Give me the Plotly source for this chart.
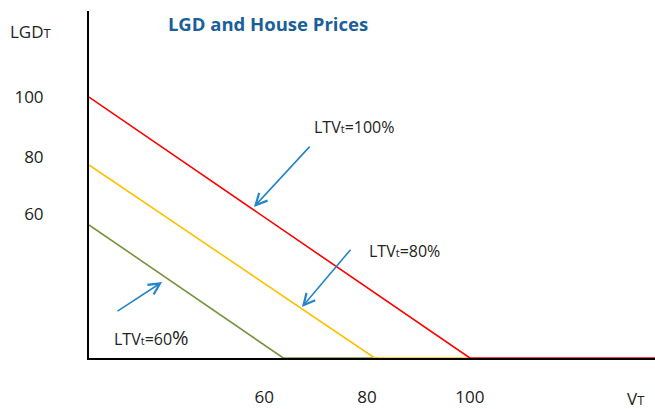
import plotly.graph_objects as go

# schematic lines: house value V_T vs loss given default, one per LTV
v_red = [0, 100, 148.6]
lgd_red = [100, 0, 0]
v_yellow = [0, 75, 100]
lgd_yellow = [74, 0, 0]
v_green = [0, 51, 76]
lgd_green = [51, 0, 0]

# tick labels as they sit on the sketch
x_tickvals = [46, 73, 100]
x_ticktext = ['60', '80', '100']
y_tickvals = [100, 77, 55]
y_ticktext = ['100', '80', '60']

# LTV labels and the arrows pointing at the lines (tail -> tip, data units)
ltv_text = ['LTV<span style="font-size:11px">t</span>=100%',
            'LTV<span style="font-size:11px">t</span>=80%',
            'LTV<span style="font-size:11px">t</span>=60<span style="font-size:20px">%</span>']
ltv_x = [58.5, 73.0, 6.0]
ltv_y = [88.5, 41.0, 7.7]
arrow_tail_x = [58.3, 69.0, 7.1]
arrow_tail_y = [81.6, 42.1, 17.6]
arrow_tip_x = [43.3, 55.9, 19.2]
arrow_tip_y = [57.9, 19.5, 29.1]

font = 'Open Sans, Liberation Sans, sans-serif'

fig = go.Figure()
fig.add_trace(go.Scatter(x=v_green, y=lgd_green, mode='lines',
                         line=dict(color='#76923C', width=1.6), cliponaxis=False))
fig.add_trace(go.Scatter(x=v_yellow, y=lgd_yellow, mode='lines',
                         line=dict(color='#FFC000', width=1.6), cliponaxis=False))
fig.add_trace(go.Scatter(x=v_red, y=lgd_red, mode='lines',
                         line=dict(color='#FF0000', width=1.6), cliponaxis=False))

for i in range(len(ltv_text)):
    fig.add_annotation(x=ltv_x[i], y=ltv_y[i], text=ltv_text[i], showarrow=False,
                       xanchor='left', yanchor='middle',
                       font=dict(family=font, size=16, color='#222'))
    fig.add_annotation(x=arrow_tip_x[i], y=arrow_tip_y[i],
                       ax=arrow_tail_x[i], ay=arrow_tail_y[i],
                       axref='x', ayref='y', text='', showarrow=True,
                       arrowhead=5, arrowsize=1.4, arrowwidth=1.6,
                       arrowcolor='#2585C7')

# axis titles
fig.add_annotation(xref='paper', yref='paper', x=-0.1025, y=0.942,
                   xanchor='center', yanchor='middle',
                   text='LGD<span style="font-size:13px">T</span>', showarrow=False,
                   font=dict(family=font, size=17, color='#222'))
fig.add_annotation(xref='paper', yref='paper', x=0.966, y=-0.118,
                   xanchor='center', yanchor='middle',
                   text='V<span style="font-size:13px">T</span>', showarrow=False,
                   font=dict(family=font, size=17, color='#222'))

fig.update_layout(
    width=655, height=409,
    margin=dict(l=89, r=0, t=11, b=51),
    plot_bgcolor='white', paper_bgcolor='white',
    showlegend=False,
    title=dict(text='<b>LGD and House Prices</b>', xref='container', yref='container',
               x=268 / 655, y=1 - 25 / 409, xanchor='center', yanchor='middle',
               font=dict(family=font, size=18.5, color='#1A5F99')),
)
fig.update_xaxes(range=[0, 148.6], showgrid=False, zeroline=False, automargin=False,
                 showline=True, linecolor='black', linewidth=2, layer='below traces',
                 tickvals=x_tickvals, ticktext=x_ticktext, ticks='',
                 ticklabelstandoff=23,
                 tickfont=dict(family=font, size=17, color='#222'))
fig.update_yaxes(range=[0, 133], showgrid=False, zeroline=False, automargin=False,
                 showline=True, linecolor='black', linewidth=2, layer='below traces',
                 tickvals=y_tickvals, ticktext=y_ticktext, ticks='',
                 ticklabelstandoff=40,
                 tickfont=dict(family=font, size=17, color='#222'))

# page body has an 8px default margin; drop it so the figure sits at 0,0
fig.write_html("out.html", config={'displayModeBar': False},
               post_script="document.body.style.margin='0';")
